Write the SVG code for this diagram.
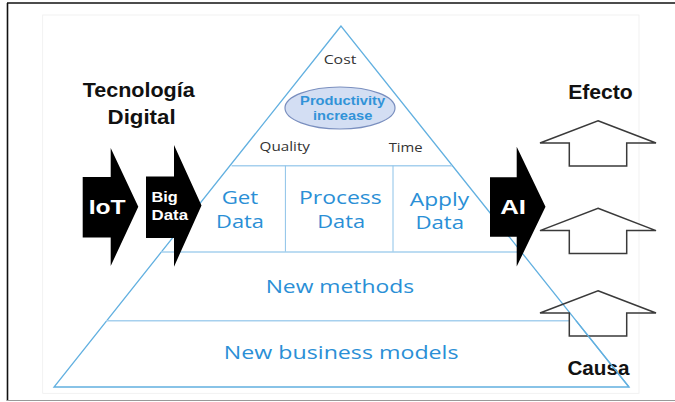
<svg xmlns="http://www.w3.org/2000/svg" xmlns:xlink="http://www.w3.org/1999/xlink" width="675" height="402" viewBox="0 0 675 402">
<defs>
<style>
.blue{font-family:"Open Sans","DejaVu Sans",sans-serif;fill:#2a8fd6;text-anchor:middle}
.blueb{font-family:"Liberation Sans",Arial,sans-serif;font-weight:bold;fill:#3193d8;text-anchor:middle}
.gray{font-family:"Open Sans","DejaVu Sans",sans-serif;fill:#333;text-anchor:middle}
.title{font-family:"Liberation Sans",Arial,sans-serif;font-weight:bold;fill:#111;text-anchor:middle}
.white{font-family:"Liberation Sans",Arial,sans-serif;font-weight:bold;fill:#fff}
.edge{fill:none;stroke:#62b0e0;stroke-width:1.3}
.band{fill:none;stroke:#a6d0ee;stroke-width:1.6}
.div{fill:none;stroke:#8cc2e8;stroke-width:1}
.black{fill:#000}
.up{fill:none;stroke:#3a3a3a;stroke-width:1.5;stroke-linejoin:miter}
</style>
<path id="uparrow" d="M598,120.7 L656,143 L626.7,143 L626.7,166 L569.3,166 L569.3,143 L540,143 Z"/>
</defs>
<rect x="0" y="0" width="675" height="402" fill="#fff"/>
<g id="frame">
<line x1="7" y1="3" x2="675" y2="3" stroke="#111" stroke-width="1.6"/>
<line x1="7.5" y1="3" x2="7.5" y2="401" stroke="#111" stroke-width="1.6"/>
<line x1="7" y1="400.5" x2="675" y2="400.5" stroke="#999" stroke-width="1.2"/>
<rect x="42.7" y="15" width="596.3" height="378.3" fill="#fff" stroke="#eee" stroke-width="0.8"/>
</g>
<g id="connectors">
<polygon class="edge" points="341,26 54,387 629,387"/>
<line class="band" x1="231.6" y1="165.7" x2="452" y2="165.7"/>
<line class="div" x1="285.4" y1="165.7" x2="285.4" y2="252"/>
<line class="div" x1="393" y1="165.7" x2="393" y2="252"/>
<line class="band" x1="161" y1="252" x2="521" y2="252"/>
<line class="band" x1="106" y1="320.7" x2="569.3" y2="320.7"/>
</g>
<g id="top">
<text class="gray" x="340" y="64" font-size="12.6" textLength="32.7" lengthAdjust="spacingAndGlyphs">Cost</text>
<ellipse cx="340" cy="108" rx="55" ry="21" fill="#d3def3" stroke="#7a8fbf" stroke-width="1.2"/>
<text class="blueb" x="342.6" y="104.5" font-size="12" textLength="85" lengthAdjust="spacingAndGlyphs">Productivity</text>
<text class="blueb" x="342.7" y="120" font-size="12" textLength="59.4" lengthAdjust="spacingAndGlyphs">increase</text>
<text class="gray" x="284.8" y="151" font-size="12.6" textLength="50.4" lengthAdjust="spacingAndGlyphs">Quality</text>
<text class="gray" x="405.7" y="151.5" font-size="12.6" textLength="34" lengthAdjust="spacingAndGlyphs">Time</text>
</g>
<g id="get-data">
<text class="blue" x="240" y="204.3" font-size="18.7" textLength="36.6" lengthAdjust="spacingAndGlyphs">Get</text>
<text class="blue" x="240" y="227.7" font-size="18.7" textLength="47.8" lengthAdjust="spacingAndGlyphs">Data</text>
</g>
<g id="process-data">
<text class="blue" x="340.4" y="204" font-size="18.7" textLength="82.7" lengthAdjust="spacingAndGlyphs">Process</text>
<text class="blue" x="341.2" y="227.7" font-size="18.7" textLength="47.8" lengthAdjust="spacingAndGlyphs">Data</text>
</g>
<g id="apply-data">
<text class="blue" x="439.5" y="205.5" font-size="18.7" textLength="59.4" lengthAdjust="spacingAndGlyphs">Apply</text>
<text class="blue" x="439.7" y="229.3" font-size="18.7" textLength="48.6" lengthAdjust="spacingAndGlyphs">Data</text>
</g>
<g id="new-methods">
<text class="blue" x="339.9" y="292.7" font-size="18.7" textLength="148.5" lengthAdjust="spacingAndGlyphs">New methods</text>
</g>
<g id="new-business-models">
<text class="blue" x="341.2" y="359.3" font-size="18.7" textLength="234.7" lengthAdjust="spacingAndGlyphs">New business models</text>
</g>
<g id="tecnologia-digital">
<text class="title" x="138.7" y="96.7" font-size="20" textLength="112" lengthAdjust="spacingAndGlyphs">Tecnología</text>
<text class="title" x="141.6" y="124" font-size="20" textLength="68" lengthAdjust="spacingAndGlyphs">Digital</text>
</g>
<g id="iot">
<polygon class="black" points="82.7,177 110.7,177 110.7,148 138.3,206.7 110.7,266 110.7,237.5 82.7,237.5"/>
<text class="white" x="88.7" y="214" font-size="21" textLength="37" lengthAdjust="spacingAndGlyphs">IoT</text>
</g>
<g id="big-data">
<polygon class="black" points="146,176.5 174,176.5 174,145 201.5,205.5 174,266.7 174,238 146,238"/>
<text class="white" x="151.5" y="201.7" font-size="14.8" textLength="26.3" lengthAdjust="spacingAndGlyphs">Big</text>
<text class="white" x="151.5" y="220" font-size="14.8" textLength="36.5" lengthAdjust="spacingAndGlyphs">Data</text>
</g>
<g id="ai">
<polygon class="black" points="490,177.3 516.7,177.3 516.7,146.7 545.5,206.7 516.7,266.5 516.7,236.7 490,236.7"/>
<text class="white" x="500.2" y="214" font-size="21" textLength="25.8" lengthAdjust="spacingAndGlyphs">AI</text>
</g>
<g id="efecto">
<text class="title" x="600.5" y="99.3" font-size="20" textLength="64.6" lengthAdjust="spacingAndGlyphs">Efecto</text>
</g>
<g id="effect-arrow-1"><use xlink:href="#uparrow" href="#uparrow" class="up"/></g>
<g id="effect-arrow-2"><use xlink:href="#uparrow" href="#uparrow" class="up" transform="translate(0,87.6)"/></g>
<g id="effect-arrow-3"><use xlink:href="#uparrow" href="#uparrow" class="up" transform="translate(0,170)"/></g>
<g id="causa">
<text class="title" x="598.4" y="375" font-size="20" textLength="62" lengthAdjust="spacingAndGlyphs">Causa</text>
</g>
<line x1="576" y1="320.7" x2="629" y2="387" stroke="#62b0e0" stroke-width="1.3"/>
</svg>
